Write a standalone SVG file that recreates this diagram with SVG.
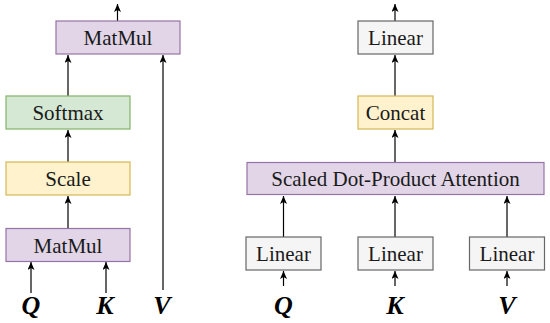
<svg xmlns="http://www.w3.org/2000/svg" width="550" height="323" viewBox="0 0 550 323">
<defs>
<marker id="ah" markerUnits="userSpaceOnUse" markerWidth="10" markerHeight="10" refX="8" refY="3.5" orient="auto">
<path d="M0,0 L8,3.5 L0,7 L2,3.5 z" fill="#000"/>
</marker>
<style>
.box{stroke-width:1.2}
.purple{fill:#e1d5e7;stroke:#9673a6}
.green{fill:#d5e8d4;stroke:#82b366}
.yellow{fill:#fff2cc;stroke:#d6b656}
.gray{fill:#f5f5f5;stroke:#666666}
.lbl{font-family:"Liberation Serif","Times New Roman",serif;font-size:21px;fill:#1a1a1a;text-anchor:middle}
.var{font-family:"Liberation Serif","Times New Roman",serif;font-size:26px;font-style:italic;font-weight:bold;fill:#000;text-anchor:middle}
.edge{stroke:#000;stroke-width:1.2;fill:none;marker-end:url(#ah)}
</style>
</defs>
<rect width="550" height="323" fill="#fff"/>
<g id="connectors">
<line class="edge" x1="117.5" y1="21" x2="117.5" y2="4"/>
<line class="edge" x1="68" y1="96" x2="68" y2="55"/>
<line class="edge" x1="163" y1="290" x2="163" y2="55"/>
<line class="edge" x1="68" y1="162" x2="68" y2="130"/>
<line class="edge" x1="68" y1="228" x2="68" y2="196"/>
<line class="edge" x1="31" y1="293" x2="31" y2="262"/>
<line class="edge" x1="106" y1="293" x2="106" y2="262"/>
<line class="edge" x1="395" y1="21" x2="395" y2="4"/>
<line class="edge" x1="395" y1="96" x2="395" y2="55"/>
<line class="edge" x1="395" y1="162" x2="395" y2="130"/>
<line class="edge" x1="283.5" y1="237" x2="283.5" y2="196"/>
<line class="edge" x1="395" y1="237" x2="395" y2="196"/>
<line class="edge" x1="507" y1="237" x2="507" y2="196"/>
<line class="edge" x1="283.5" y1="286" x2="283.5" y2="271"/>
<line class="edge" x1="395" y1="286" x2="395" y2="271"/>
<line class="edge" x1="507" y1="286" x2="507" y2="271"/>
</g>
<g id="matmul_top"><rect class="box purple" x="56" y="21" width="124" height="33"/><text class="lbl" x="118" y="45">MatMul</text></g>
<g id="softmax"><rect class="box green" x="6" y="96" width="124" height="33"/><text class="lbl" x="68" y="120">Softmax</text></g>
<g id="scale"><rect class="box yellow" x="6" y="162" width="124" height="33"/><text class="lbl" x="68" y="186">Scale</text></g>
<g id="matmul_bottom"><rect class="box purple" x="6" y="228.5" width="124" height="33"/><text class="lbl" x="68" y="252.5">MatMul</text></g>
<g id="q_left"><text class="var" x="31" y="314">Q</text></g>
<g id="k_left"><text class="var" x="105" y="314">K</text></g>
<g id="v_left"><text class="var" x="162" y="314">V</text></g>
<g id="linear_out"><rect class="box gray" x="358" y="21" width="75" height="33"/><text class="lbl" x="395.5" y="45">Linear</text></g>
<g id="concat"><rect class="box yellow" x="358" y="96" width="75" height="33"/><text class="lbl" x="395.5" y="120">Concat</text></g>
<g id="sdpa"><rect class="box purple" x="247" y="162.5" width="297" height="32"/><text class="lbl" x="395.5" y="186">Scaled Dot-Product Attention</text></g>
<g id="linear_q"><rect class="box gray" x="246" y="237" width="75" height="33"/><text class="lbl" x="283.5" y="261">Linear</text></g>
<g id="linear_k"><rect class="box gray" x="358" y="237" width="75" height="33"/><text class="lbl" x="395.5" y="261">Linear</text></g>
<g id="linear_v"><rect class="box gray" x="469.5" y="237" width="75" height="33"/><text class="lbl" x="507" y="261">Linear</text></g>
<g id="q_right"><text class="var" x="283.5" y="314">Q</text></g>
<g id="k_right"><text class="var" x="395" y="314">K</text></g>
<g id="v_right"><text class="var" x="507" y="314">V</text></g>
</svg>
